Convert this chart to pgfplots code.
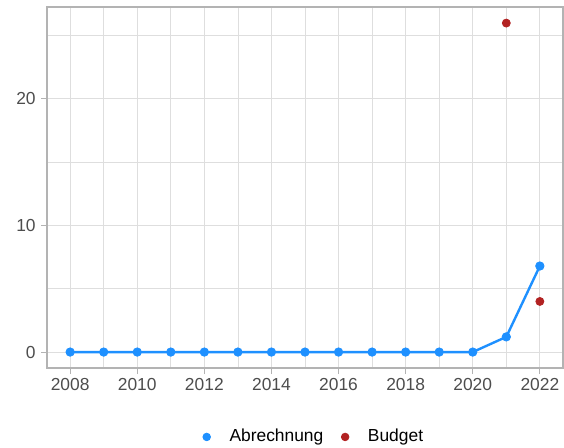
\documentclass[border=0pt]{standalone}
\usepackage{fontspec}
\setmainfont{Liberation Sans}
\usepackage{pgfplots}
\pgfplotsset{compat=1.18}
\definecolor{abr}{HTML}{1E90FF}
\definecolor{bud}{HTML}{B22222}
\definecolor{gridc}{HTML}{DEDEDE}
\definecolor{framec}{HTML}{B3B3B3}
\definecolor{ticklab}{HTML}{4D4D4D}
\begin{document}
\begin{tikzpicture}
\path[use as bounding box] (-23.5bp,-40bp) rectangle (258.5bp,184bp);
\begin{axis}[
    at={(0,0)}, anchor=south west,
    scale only axis,
    width=258bp, height=180.5bp,
    xmin=2007.31, xmax=2022.69,
    ymin=-1.26, ymax=27.27,
    xtick={2008,2010,...,2022},
    minor xtick={2009,2011,...,2021},
    ytick={0,10,20},
    minor ytick={5,15,25},
    grid=both,
    major grid style={color=gridc, line width=0.5bp},
    minor grid style={color=gridc, line width=0.3bp},
    axis line style={color=framec, line width=0.6bp},
    tick pos=left,
    tick align=outside,
    major tick length=3bp,
    minor tick length=0bp,
    tick style={color=framec, line width=0.5bp},
    /pgf/number format/1000 sep={},
    /pgf/number format/assume math mode=true,
    tick label style={font=\fontsize{8.7bp}{10bp}\selectfont, text=ticklab, inner sep=0pt},
    xticklabel style={anchor=north, yshift=-2bp},
    yticklabel style={anchor=east, xshift=-2.5bp},
    legend columns=-1,
    legend style={draw=none, fill=none, at={(0.5155,-0.191)}, anchor=center,
        font=\fontsize{8.7bp}{10bp}\selectfont,
        nodes={inner sep=0pt},
        /tikz/every odd column/.style={column sep=9.5bp},
        /tikz/every even column/.style={column sep=9bp}},
    legend image code/.code={\draw[#1] plot coordinates {(0bp,0bp)};},
]
\addplot[abr, line width=1.2bp, mark=*, mark size=2.1bp, mark options={solid, line width=0.4bp}, forget plot] coordinates {
(2008,0) (2009,0) (2010,0) (2011,0) (2012,0) (2013,0) (2014,0) (2015,0)
(2016,0) (2017,0) (2018,0) (2019,0) (2020,0) (2021,1.2) (2022,6.8)};
\addplot[bud, only marks, mark=*, mark size=2.0bp, mark options={line width=0.4bp}, forget plot] coordinates {
(2021,26.0) (2022,4.0)};
\addlegendimage{only marks, mark=*, mark size=1.9bp, color=abr}
\addlegendentry{Abrechnung}
\addlegendimage{only marks, mark=*, mark size=1.9bp, color=bud}
\addlegendentry{Budget}
\end{axis}
\end{tikzpicture}
\end{document}
